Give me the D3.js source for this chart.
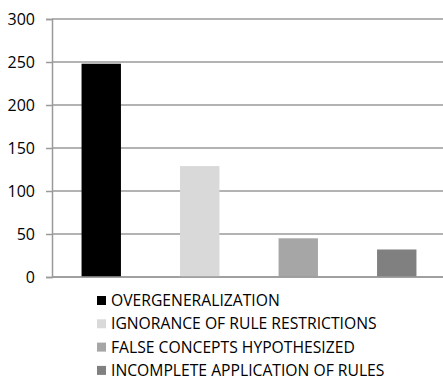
<!DOCTYPE html>
<html>
<head>
<meta charset="utf-8">
<script src="https://cdn.jsdelivr.net/npm/d3@7"></script>
<style>
  html, body { margin: 0; padding: 0; background: #fff; }
  svg { display: block; }
  text { font-family: "Open Sans", "Liberation Sans", sans-serif; fill: #000; }
</style>
</head>
<body>
<svg id="chart" width="443" height="383"></svg>
<script>
// Error types and their counts
const categories = [
  "OVERGENERALIZATION",
  "IGNORANCE OF RULE RESTRICTIONS",
  "FALSE CONCEPTS HYPOTHESIZED",
  "INCOMPLETE APPLICATION OF RULES"
];
const counts = [248, 129, 45, 32];
const colors = ["#000000", "#d9d9d9", "#a6a6a6", "#808080"];
const yTicks = [0, 50, 100, 150, 200, 250, 300];

const svg = d3.select("#chart");
const W = 443;

const x = d3.scaleBand()
  .domain(categories)
  .range([52, 446])
  .paddingInner(0.6)
  .paddingOuter(0.3);

const y = d3.scaleLinear()
  .domain([0, 300])
  .range([277, 19]);

// Horizontal gridlines
svg.append("g")
  .selectAll("line")
  .data(yTicks)
  .join("line")
  .attr("x1", 52)
  .attr("x2", W)
  .attr("y1", d => y(d))
  .attr("y2", d => y(d))
  .attr("stroke", "#9a9a9a")
  .attr("stroke-width", 1.5);

// Y axis with short outward ticks
const yAxis = svg.append("g")
  .attr("transform", "translate(52,0)")
  .call(d3.axisLeft(y).tickValues(yTicks).tickSize(6).tickPadding(11));
yAxis.select(".domain").attr("stroke", "#9a9a9a").attr("stroke-width", 1.5);
yAxis.selectAll(".tick line").attr("stroke", "#9a9a9a").attr("stroke-width", 1.5);
yAxis.selectAll(".tick text")
  .attr("font-family", "'Open Sans', 'Liberation Sans', sans-serif")
  .attr("font-size", 16)
  .attr("fill", "#111");

// Bars
svg.append("g")
  .selectAll("rect")
  .data(categories)
  .join("rect")
  .attr("x", d => x(d))
  .attr("width", x.bandwidth())
  .attr("y", (d, i) => y(counts[i]))
  .attr("height", (d, i) => y(0) - y(counts[i]))
  .attr("fill", (d, i) => colors[i]);

// Baseline over the bars
svg.append("line")
  .attr("x1", 52).attr("x2", W)
  .attr("y1", y(0)).attr("y2", y(0))
  .attr("stroke", "#9a9a9a")
  .attr("stroke-width", 1.5);

// Legend
const legend = svg.append("g")
  .selectAll("g")
  .data(categories)
  .join("g")
  .attr("transform", (d, i) => `translate(97, ${300.5 + i * 23.3})`);

legend.append("rect")
  .attr("x", 0)
  .attr("y", -4.5)
  .attr("width", 9)
  .attr("height", 9)
  .attr("fill", (d, i) => colors[i]);

legend.append("text")
  .attr("x", 14)
  .attr("y", 0)
  .attr("dy", "0.35em")
  .attr("font-size", 15.7)
  .attr("fill", "#111")
  .text(d => d);
</script>
</body>
</html>
